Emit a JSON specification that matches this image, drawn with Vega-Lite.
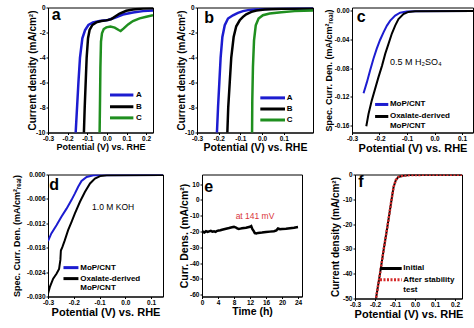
{
 "$schema": "https://vega.github.io/schema/vega-lite/v6.json",
 "padding": {"left": 11, "top": 3.5, "right": 0, "bottom": 0},
 "background": "white",
 "config": {
   "font": "Liberation Sans",
   "locale": {"number": {"decimal": ".", "thousands": ",", "grouping": [3], "currency": ["$", ""], "minus": "-"}},
   "view": {"stroke": "black", "strokeWidth": 1},
   "axis": {"grid": false, "domainColor": "black", "domainWidth": 1, "tickColor": "black", "tickSize": 2, "tickWidth": 1, "tickCount": 20, "labelFontSize": 6.5, "labelFontWeight": "bold", "labelColor": "black", "labelPadding": 1, "labelFlush": false, "labelOverlap": false, "titleFontSize": 10, "titleFontWeight": "bold", "titleColor": "black", "titlePadding": 0},
   "text": {"font": "Liberation Sans", "color": "black"}
 },
 "bounds": "full",
 "spacing": 17,
 "vconcat": [
  {
   "bounds": "flush",
   "spacing": 0,
   "hconcat": [
    {
     "width": 105, "height": 125,
     "layer": [
      {"data": {"values": [
        {"s":"A","x":-0.163,"y":-11},{"s":"A","x":-0.159,"y":-10},{"s":"A","x":-0.152,"y":-8},{"s":"A","x":-0.145,"y":-6},{"s":"A","x":-0.137,"y":-4},{"s":"A","x":-0.125,"y":-2.46},{"s":"A","x":-0.111,"y":-1.8},{"s":"A","x":-0.094,"y":-1.4},{"s":"A","x":-0.071,"y":-1.19},{"s":"A","x":-0.037,"y":-1.08},{"s":"A","x":0.006,"y":-1.0},{"s":"A","x":0.04,"y":-0.82},{"s":"A","x":0.082,"y":-0.56},{"s":"A","x":0.133,"y":-0.4},{"s":"A","x":0.184,"y":-0.29},{"s":"A","x":0.235,"y":-0.24},
        {"s":"B","x":-0.119,"y":-11},{"s":"B","x":-0.117,"y":-10},{"s":"B","x":-0.113,"y":-8},{"s":"B","x":-0.108,"y":-6},{"s":"B","x":-0.103,"y":-4},{"s":"B","x":-0.096,"y":-2.46},{"s":"B","x":-0.088,"y":-1.8},{"s":"B","x":-0.074,"y":-1.4},{"s":"B","x":-0.054,"y":-1.19},{"s":"B","x":-0.028,"y":-1.08},{"s":"B","x":-0.003,"y":-1.03},{"s":"B","x":0.023,"y":-0.93},{"s":"B","x":0.04,"y":-0.74},{"s":"B","x":0.065,"y":-0.48},{"s":"B","x":0.099,"y":-0.26},{"s":"B","x":0.133,"y":-0.16},{"s":"B","x":0.184,"y":-0.08},{"s":"B","x":0.235,"y":-0.05},
        {"s":"C","x":-0.038,"y":-11},{"s":"C","x":-0.037,"y":-10},{"s":"C","x":-0.035,"y":-7.5},{"s":"C","x":-0.033,"y":-4.8},{"s":"C","x":-0.03,"y":-2.72},{"s":"C","x":-0.025,"y":-2.06},{"s":"C","x":-0.016,"y":-1.72},{"s":"C","x":-0.003,"y":-1.59},{"s":"C","x":0.018,"y":-1.53},{"s":"C","x":0.04,"y":-1.61},{"s":"C","x":0.06,"y":-1.8},{"s":"C","x":0.07,"y":-1.88},{"s":"C","x":0.086,"y":-1.67},{"s":"C","x":0.108,"y":-1.35},{"s":"C","x":0.133,"y":-1.08},{"s":"C","x":0.167,"y":-0.87},{"s":"C","x":0.201,"y":-0.74},{"s":"C","x":0.235,"y":-0.61}
       ]},
       "mark": {"type": "line", "strokeWidth": 2.5, "clip": true},
       "encoding": {
        "x": {"field": "x", "type": "quantitative", "scale": {"domain": [-0.3, 0.235], "nice": false, "zero": false}, "axis": {"values": [-0.3, -0.2, -0.1, 0, 0.1, 0.2], "tickCount": 20, "format": ".1f", "labelOverlap": false, "title": "Potential (V) vs. RHE", "titleFontSize": 9}},
        "y": {"field": "y", "type": "quantitative", "scale": {"domain": [-10, 0], "nice": false, "zero": false}, "axis": {"values": [-10, -8, -6, -4, -2, 0], "tickCount": 20, "format": "d", "labelOverlap": false, "title": "Current density (mA/cm²)", "titleFontSize": 10, "minExtent": 10.6, "maxExtent": 10.6}},
        "color": {"field": "s", "type": "nominal", "scale": {"domain": ["A", "B", "C"], "range": ["#1c1cd0", "#000000", "#1f8f1f"]}, "legend": null}
       }},
      {"data": {"values": [{}]}, "mark": {"type": "rule", "color": "#1c1cd0", "strokeWidth": 3}, "encoding": {"x": {"datum": 0.016}, "x2": {"datum": 0.135}, "y": {"datum": -7.0}}},
      {"data": {"values": [{}]}, "mark": {"type": "rule", "color": "#000000", "strokeWidth": 3}, "encoding": {"x": {"datum": 0.016}, "x2": {"datum": 0.135}, "y": {"datum": -7.94}}},
      {"data": {"values": [{}]}, "mark": {"type": "rule", "color": "#1f8f1f", "strokeWidth": 3}, "encoding": {"x": {"datum": 0.016}, "x2": {"datum": 0.135}, "y": {"datum": -8.83}}},
      {"data": {"values": [{}]}, "mark": {"type": "text", "text": "A", "align": "left", "baseline": "middle", "fontSize": 8, "fontWeight": "bold"}, "encoding": {"x": {"datum": 0.149}, "y": {"datum": -7.0}}},
      {"data": {"values": [{}]}, "mark": {"type": "text", "text": "B", "align": "left", "baseline": "middle", "fontSize": 8, "fontWeight": "bold"}, "encoding": {"x": {"datum": 0.149}, "y": {"datum": -7.94}}},
      {"data": {"values": [{}]}, "mark": {"type": "text", "text": "C", "align": "left", "baseline": "middle", "fontSize": 8, "fontWeight": "bold"}, "encoding": {"x": {"datum": 0.149}, "y": {"datum": -8.83}}},
      {"data": {"values": [{}]}, "mark": {"type": "text", "text": "a", "align": "left", "baseline": "alphabetic", "fontSize": 16, "fontWeight": "bold"}, "encoding": {"x": {"datum": -0.281}, "y": {"datum": -0.98}}}
     ]
    },
    {"width": 44, "height": 1, "data": {"values": []}, "mark": "point", "view": {"stroke": null}},
    {
     "width": 116, "height": 125,
     "layer": [
      {"data": {"values": [
        {"s":"A","x":-0.212,"y":-11},{"s":"A","x":-0.208,"y":-10},{"s":"A","x":-0.203,"y":-8},{"s":"A","x":-0.197,"y":-6},{"s":"A","x":-0.191,"y":-4},{"s":"A","x":-0.183,"y":-2.36},{"s":"A","x":-0.172,"y":-1.42},{"s":"A","x":-0.157,"y":-0.88},{"s":"A","x":-0.134,"y":-0.62},{"s":"A","x":-0.111,"y":-0.43},{"s":"A","x":-0.088,"y":-0.29},{"s":"A","x":-0.065,"y":-0.21},{"s":"A","x":-0.034,"y":-0.16},{"s":"A","x":0.043,"y":-0.11},{"s":"A","x":0.15,"y":-0.08},{"s":"A","x":0.235,"y":-0.05},
        {"s":"B","x":-0.163,"y":-11},{"s":"B","x":-0.16,"y":-10},{"s":"B","x":-0.156,"y":-8},{"s":"B","x":-0.149,"y":-6},{"s":"B","x":-0.142,"y":-4},{"s":"B","x":-0.131,"y":-2.36},{"s":"B","x":-0.119,"y":-1.5},{"s":"B","x":-0.103,"y":-1.02},{"s":"B","x":-0.088,"y":-0.75},{"s":"B","x":-0.073,"y":-0.54},{"s":"B","x":-0.049,"y":-0.35},{"s":"B","x":-0.026,"y":-0.24},{"s":"B","x":0.012,"y":-0.16},{"s":"B","x":0.089,"y":-0.11},{"s":"B","x":0.235,"y":-0.08},
        {"s":"C","x":-0.047,"y":-11},{"s":"C","x":-0.046,"y":-10},{"s":"C","x":-0.045,"y":-7.45},{"s":"C","x":-0.042,"y":-4.77},{"s":"C","x":-0.037,"y":-2.63},{"s":"C","x":-0.029,"y":-1.42},{"s":"C","x":-0.016,"y":-0.88},{"s":"C","x":0.004,"y":-0.62},{"s":"C","x":0.035,"y":-0.48},{"s":"C","x":0.089,"y":-0.38},{"s":"C","x":0.15,"y":-0.29},{"s":"C","x":0.235,"y":-0.24}
       ]},
       "mark": {"type": "line", "strokeWidth": 2.5, "clip": true},
       "encoding": {
        "x": {"field": "x", "type": "quantitative", "scale": {"domain": [-0.3, 0.235], "nice": false, "zero": false}, "axis": {"values": [-0.3, -0.2, -0.1, 0, 0.1], "tickCount": 20, "format": ".1f", "labelOverlap": false, "title": "Potential (V) vs. RHE", "titleFontSize": 10.5}},
        "y": {"field": "y", "type": "quantitative", "scale": {"domain": [-10, 0], "nice": false, "zero": false}, "axis": {"values": [-10, -8, -6, -4, -2, 0], "tickCount": 20, "format": "d", "labelOverlap": false, "title": "Current density (mA/cm²)", "titleFontSize": 10, "minExtent": 11, "maxExtent": 11}},
        "color": {"field": "s", "type": "nominal", "scale": {"domain": ["A", "B", "C"], "range": ["#1c1cd0", "#000000", "#1f8f1f"]}, "legend": null}
       }},
      {"data": {"values": [{}]}, "mark": {"type": "rule", "color": "#1c1cd0", "strokeWidth": 3}, "encoding": {"x": {"datum": -0.008}, "x2": {"datum": 0.106}, "y": {"datum": -7.23}}},
      {"data": {"values": [{}]}, "mark": {"type": "rule", "color": "#000000", "strokeWidth": 3}, "encoding": {"x": {"datum": -0.008}, "x2": {"datum": 0.106}, "y": {"datum": -8.12}}},
      {"data": {"values": [{}]}, "mark": {"type": "rule", "color": "#1f8f1f", "strokeWidth": 3}, "encoding": {"x": {"datum": -0.008}, "x2": {"datum": 0.106}, "y": {"datum": -9.0}}},
      {"data": {"values": [{}]}, "mark": {"type": "text", "text": "A", "align": "left", "baseline": "middle", "fontSize": 8, "fontWeight": "bold"}, "encoding": {"x": {"datum": 0.114}, "y": {"datum": -7.23}}},
      {"data": {"values": [{}]}, "mark": {"type": "text", "text": "B", "align": "left", "baseline": "middle", "fontSize": 8, "fontWeight": "bold"}, "encoding": {"x": {"datum": 0.114}, "y": {"datum": -8.12}}},
      {"data": {"values": [{}]}, "mark": {"type": "text", "text": "C", "align": "left", "baseline": "middle", "fontSize": 8, "fontWeight": "bold"}, "encoding": {"x": {"datum": 0.114}, "y": {"datum": -9.0}}},
      {"data": {"values": [{}]}, "mark": {"type": "text", "text": "b", "align": "left", "baseline": "alphabetic", "fontSize": 16, "fontWeight": "bold"}, "encoding": {"x": {"datum": -0.266}, "y": {"datum": -1.26}}}
     ]
    },
    {"width": 39, "height": 1, "data": {"values": []}, "mark": "point", "view": {"stroke": null}},
    {
     "width": 121, "height": 125,
     "layer": [
      {"data": {"values": [
        {"s":"MoP/CNT","x":-0.258,"y":-0.115},{"s":"MoP/CNT","x":-0.246,"y":-0.1},{"s":"MoP/CNT","x":-0.234,"y":-0.083},{"s":"MoP/CNT","x":-0.222,"y":-0.067},{"s":"MoP/CNT","x":-0.21,"y":-0.053},{"s":"MoP/CNT","x":-0.198,"y":-0.041},{"s":"MoP/CNT","x":-0.185,"y":-0.03},{"s":"MoP/CNT","x":-0.173,"y":-0.021},{"s":"MoP/CNT","x":-0.161,"y":-0.014},{"s":"MoP/CNT","x":-0.143,"y":-0.007},{"s":"MoP/CNT","x":-0.125,"y":-0.003},{"s":"MoP/CNT","x":-0.101,"y":-0.0014},{"s":"MoP/CNT","x":-0.065,"y":-0.0009},{"s":"MoP/CNT","x":0.14,"y":-0.0005},
        {"s":"Oxalate-derived MoP/CNT","x":-0.248,"y":-0.161},{"s":"Oxalate-derived MoP/CNT","x":-0.24,"y":-0.144},{"s":"Oxalate-derived MoP/CNT","x":-0.228,"y":-0.125},{"s":"Oxalate-derived MoP/CNT","x":-0.216,"y":-0.109},{"s":"Oxalate-derived MoP/CNT","x":-0.204,"y":-0.093},{"s":"Oxalate-derived MoP/CNT","x":-0.191,"y":-0.077},{"s":"Oxalate-derived MoP/CNT","x":-0.179,"y":-0.06},{"s":"Oxalate-derived MoP/CNT","x":-0.167,"y":-0.046},{"s":"Oxalate-derived MoP/CNT","x":-0.155,"y":-0.032},{"s":"Oxalate-derived MoP/CNT","x":-0.143,"y":-0.021},{"s":"Oxalate-derived MoP/CNT","x":-0.131,"y":-0.012},{"s":"Oxalate-derived MoP/CNT","x":-0.113,"y":-0.005},{"s":"Oxalate-derived MoP/CNT","x":-0.095,"y":-0.002},{"s":"Oxalate-derived MoP/CNT","x":-0.071,"y":-0.0009},{"s":"Oxalate-derived MoP/CNT","x":0.14,"y":-0.0005}
       ]},
       "mark": {"type": "line", "strokeWidth": 2, "clip": true},
       "encoding": {
        "x": {"field": "x", "type": "quantitative", "scale": {"domain": [-0.3, 0.14], "nice": false, "zero": false}, "axis": {"values": [-0.3, -0.2, -0.1, 0, 0.1], "tickCount": 20, "format": ".1f", "labelOverlap": false, "title": "Potential (V) vs. RHE", "titleFontSize": 11}},
        "y": {"field": "y", "type": "quantitative", "scale": {"domain": [-0.1697, 0.0042], "nice": false, "zero": false}, "axis": {"values": [-0.16, -0.12, -0.08, -0.04, 0], "tickCount": 20, "format": ".2f", "labelOverlap": false, "title": "Spec. Curr. Den. (mA/cm²ᵣₑₐₗ)", "titleFontSize": 9, "minExtent": 19, "maxExtent": 19}},
        "color": {"field": "s", "type": "nominal", "scale": {"domain": ["MoP/CNT", "Oxalate-derived MoP/CNT"], "range": ["#1c1cd0", "#000000"]}, "legend": null}
       }},
      {"data": {"values": [{}]}, "mark": {"type": "rule", "color": "#1c1cd0", "strokeWidth": 3}, "encoding": {"x": {"datum": -0.216}, "x2": {"datum": -0.168}, "y": {"datum": -0.1307}}},
      {"data": {"values": [{}]}, "mark": {"type": "rule", "color": "#000000", "strokeWidth": 3}, "encoding": {"x": {"datum": -0.216}, "x2": {"datum": -0.168}, "y": {"datum": -0.1474}}},
      {"data": {"values": [{}]}, "mark": {"type": "text", "text": "MoP/CNT", "align": "left", "baseline": "middle", "fontSize": 8, "fontWeight": "bold"}, "encoding": {"x": {"datum": -0.162}, "y": {"datum": -0.1307}}},
      {"data": {"values": [{}]}, "mark": {"type": "text", "text": "Oxalate-derived", "align": "left", "baseline": "middle", "fontSize": 8, "fontWeight": "bold"}, "encoding": {"x": {"datum": -0.162}, "y": {"datum": -0.1474}}},
      {"data": {"values": [{}]}, "mark": {"type": "text", "text": "MoP/CNT", "align": "left", "baseline": "middle", "fontSize": 8, "fontWeight": "bold"}, "encoding": {"x": {"datum": -0.162}, "y": {"datum": -0.1613}}},
      {"data": {"values": [{}]}, "mark": {"type": "text", "text": "0.5 M H₂SO₄", "align": "left", "baseline": "middle", "fontSize": 9}, "encoding": {"x": {"datum": -0.162}, "y": {"datum": -0.0719}}},
      {"data": {"values": [{}]}, "mark": {"type": "text", "text": "c", "align": "left", "baseline": "alphabetic", "fontSize": 16, "fontWeight": "bold"}, "encoding": {"x": {"datum": -0.283}, "y": {"datum": -0.0163}}}
     ]
    }
   ]
  },
  {
   "bounds": "flush",
   "spacing": 0,
   "hconcat": [
    {
     "width": 115, "height": 122,
     "layer": [
      {"data": {"values": [
        {"s":"MoP/CNT","x":-0.3,"y":-0.0164},{"s":"MoP/CNT","x":-0.287,"y":-0.0145},{"s":"MoP/CNT","x":-0.267,"y":-0.0125},{"s":"MoP/CNT","x":-0.248,"y":-0.0104},{"s":"MoP/CNT","x":-0.228,"y":-0.0084},{"s":"MoP/CNT","x":-0.209,"y":-0.0063},{"s":"MoP/CNT","x":-0.196,"y":-0.0047},{"s":"MoP/CNT","x":-0.183,"y":-0.003},{"s":"MoP/CNT","x":-0.17,"y":-0.0016},{"s":"MoP/CNT","x":-0.15,"y":-0.0006},{"s":"MoP/CNT","x":-0.124,"y":-0.0002},{"s":"MoP/CNT","x":0.146,"y":-0.0001},
        {"s":"Oxalate-derived MoP/CNT","x":-0.3,"y":-0.0293},{"s":"Oxalate-derived MoP/CNT","x":-0.293,"y":-0.0277},{"s":"Oxalate-derived MoP/CNT","x":-0.28,"y":-0.0256},{"s":"Oxalate-derived MoP/CNT","x":-0.267,"y":-0.0244},{"s":"Oxalate-derived MoP/CNT","x":-0.257,"y":-0.0232},{"s":"Oxalate-derived MoP/CNT","x":-0.252,"y":-0.021},{"s":"Oxalate-derived MoP/CNT","x":-0.25,"y":-0.0187},{"s":"Oxalate-derived MoP/CNT","x":-0.244,"y":-0.0178},{"s":"Oxalate-derived MoP/CNT","x":-0.235,"y":-0.0162},{"s":"Oxalate-derived MoP/CNT","x":-0.222,"y":-0.0137},{"s":"Oxalate-derived MoP/CNT","x":-0.209,"y":-0.0117},{"s":"Oxalate-derived MoP/CNT","x":-0.196,"y":-0.0096},{"s":"Oxalate-derived MoP/CNT","x":-0.176,"y":-0.0067},{"s":"Oxalate-derived MoP/CNT","x":-0.157,"y":-0.0043},{"s":"Oxalate-derived MoP/CNT","x":-0.137,"y":-0.0022},{"s":"Oxalate-derived MoP/CNT","x":-0.118,"y":-0.001},{"s":"Oxalate-derived MoP/CNT","x":-0.098,"y":-0.0004},{"s":"Oxalate-derived MoP/CNT","x":-0.072,"y":-0.0002},{"s":"Oxalate-derived MoP/CNT","x":0.146,"y":-0.0001}
       ]},
       "mark": {"type": "line", "strokeWidth": 2, "clip": true},
       "encoding": {
        "x": {"field": "x", "type": "quantitative", "scale": {"domain": [-0.3, 0.146], "nice": false, "zero": false}, "axis": {"values": [-0.3, -0.2, -0.1, 0, 0.1], "tickCount": 20, "format": ".1f", "labelOverlap": false, "title": "Potential (V) vs. RHE", "titleFontSize": 11}},
        "y": {"field": "y", "type": "quantitative", "scale": {"domain": [-0.03, 0], "nice": false, "zero": false}, "axis": {"values": [-0.03, -0.024, -0.018, -0.012, -0.006, 0], "tickCount": 20, "format": ".3f", "labelOverlap": false, "title": "Spec. Curr. Den. (mA/cm²ᵣₑₐₗ)", "titleFontSize": 9, "minExtent": 27, "maxExtent": 27}},
        "color": {"field": "s", "type": "nominal", "scale": {"domain": ["MoP/CNT", "Oxalate-derived MoP/CNT"], "range": ["#1c1cd0", "#000000"]}, "legend": null}
       }},
      {"data": {"values": [{}]}, "mark": {"type": "rule", "color": "#1c1cd0", "strokeWidth": 3}, "encoding": {"x": {"datum": -0.24}, "x2": {"datum": -0.182}, "y": {"datum": -0.0229}}},
      {"data": {"values": [{}]}, "mark": {"type": "rule", "color": "#000000", "strokeWidth": 3}, "encoding": {"x": {"datum": -0.24}, "x2": {"datum": -0.182}, "y": {"datum": -0.0256}}},
      {"data": {"values": [{}]}, "mark": {"type": "text", "text": "MoP/CNT", "align": "left", "baseline": "middle", "fontSize": 8, "fontWeight": "bold"}, "encoding": {"x": {"datum": -0.175}, "y": {"datum": -0.0229}}},
      {"data": {"values": [{}]}, "mark": {"type": "text", "text": "Oxalate-derived", "align": "left", "baseline": "middle", "fontSize": 8, "fontWeight": "bold"}, "encoding": {"x": {"datum": -0.175}, "y": {"datum": -0.0256}}},
      {"data": {"values": [{}]}, "mark": {"type": "text", "text": "MoP/CNT", "align": "left", "baseline": "middle", "fontSize": 8, "fontWeight": "bold"}, "encoding": {"x": {"datum": -0.175}, "y": {"datum": -0.028}}},
      {"data": {"values": [{}]}, "mark": {"type": "text", "text": "1.0 M KOH", "align": "left", "baseline": "middle", "fontSize": 8.5}, "encoding": {"x": {"datum": -0.129}, "y": {"datum": -0.0079}}},
      {"data": {"values": [{}]}, "mark": {"type": "text", "text": "d", "align": "left", "baseline": "alphabetic", "fontSize": 16, "fontWeight": "bold"}, "encoding": {"x": {"datum": -0.295}, "y": {"datum": -0.00386}}}
     ]
    },
    {"width": 39, "height": 1, "data": {"values": []}, "mark": "point", "view": {"stroke": null}},
    {
     "width": 100, "height": 122,
     "layer": [
      {"data": {"values": [
        {"t":0,"y":-20.9},{"t":0.3,"y":-20.2},{"t":0.6,"y":-20.6},{"t":1.0,"y":-19.8},{"t":1.4,"y":-20.3},{"t":1.8,"y":-19.9},{"t":2.2,"y":-19.6},{"t":2.6,"y":-20.1},{"t":3.0,"y":-19.9},{"t":3.4,"y":-20.3},{"t":3.8,"y":-19.6},{"t":4.2,"y":-19.4},{"t":4.6,"y":-19.2},{"t":5.0,"y":-18.9},{"t":5.5,"y":-18.6},{"t":6.0,"y":-18.3},{"t":6.5,"y":-18.0},{"t":7.0,"y":-17.6},{"t":7.5,"y":-17.3},{"t":8.0,"y":-17.1},{"t":8.5,"y":-17.5},{"t":8.8,"y":-18.0},{"t":9.2,"y":-18.4},{"t":9.6,"y":-18.2},{"t":10.0,"y":-18.0},{"t":10.5,"y":-17.8},{"t":11.0,"y":-17.6},{"t":11.5,"y":-17.3},{"t":12.0,"y":-17.0},{"t":12.3,"y":-16.6},{"t":12.6,"y":-18.5},{"t":12.9,"y":-19.6},{"t":13.2,"y":-21.0},{"t":13.6,"y":-21.2},{"t":14.0,"y":-20.9},{"t":15.0,"y":-20.7},{"t":16.0,"y":-20.4},{"t":17.0,"y":-20.1},{"t":18.0,"y":-19.8},{"t":18.6,"y":-19.3},{"t":19.0,"y":-18.1},{"t":19.5,"y":-18.6},{"t":20.0,"y":-18.4},{"t":21.0,"y":-18.2},{"t":22.0,"y":-17.9},{"t":23.0,"y":-17.6},{"t":24.0,"y":-17.2}
       ]},
       "mark": {"type": "line", "strokeWidth": 2.5, "color": "black", "clip": true},
       "encoding": {
        "x": {"field": "t", "type": "quantitative", "scale": {"domain": [0, 25], "nice": false, "zero": false}, "axis": {"values": [0, 4, 8, 12, 16, 20, 24], "tickCount": 20, "format": "d", "labelOverlap": false, "title": "Time (h)", "titleFontSize": 10.5}},
        "y": {"field": "y", "type": "quantitative", "scale": {"domain": [-61.2, 16.1], "nice": false, "zero": false}, "axis": {"values": [-60, -50, -40, -30, -20, -10, 0, 10], "tickCount": 20, "format": "d", "labelOverlap": false, "title": "Curr. Dens. (mA/cm²)", "titleFontSize": 10.5, "minExtent": 12.5, "maxExtent": 12.5}}
       }},
      {"data": {"values": [{}]}, "mark": {"type": "text", "text": "at 141 mV", "align": "center", "baseline": "middle", "fontSize": 8.5, "color": "#d9343a"}, "encoding": {"x": {"datum": 13.25}, "y": {"datum": -10}}},
      {"data": {"values": [{}]}, "mark": {"type": "text", "text": "e", "align": "left", "baseline": "alphabetic", "fontSize": 16, "fontWeight": "bold"}, "encoding": {"x": {"datum": 0.575}, "y": {"datum": 5.1}}}
     ]
    },
    {"width": 53, "height": 1, "data": {"values": []}, "mark": "point", "view": {"stroke": null}},
    {
     "width": 107, "height": 124,
     "layer": [
      {"data": {"values": [
        {"x":-0.199,"y":-51},{"x":-0.195,"y":-50},{"x":-0.175,"y":-40},{"x":-0.156,"y":-30},{"x":-0.136,"y":-20},{"x":-0.117,"y":-10},{"x":-0.107,"y":-5},{"x":-0.096,"y":-2.3},{"x":-0.083,"y":-1.0},{"x":-0.062,"y":-0.5},{"x":-0.028,"y":-0.25},{"x":0.03,"y":-0.15},{"x":0.235,"y":-0.1}
       ]},
       "mark": {"type": "line", "strokeWidth": 2, "color": "black", "clip": true},
       "encoding": {
        "x": {"field": "x", "type": "quantitative", "scale": {"domain": [-0.3, 0.235], "nice": false, "zero": false}, "axis": {"values": [-0.3, -0.2, -0.1, 0, 0.1, 0.2], "tickCount": 20, "format": ".1f", "labelOverlap": false, "title": "Potential (V) vs. RHE", "titleFontSize": 11}},
        "y": {"field": "y", "type": "quantitative", "scale": {"domain": [-50, 0], "nice": false, "zero": false}, "axis": {"values": [-50, -40, -30, -20, -10, 0], "tickCount": 20, "format": "d", "labelOverlap": false, "title": "Current density (mA/cm²)", "titleFontSize": 10, "minExtent": 15, "maxExtent": 15}}
       }},
      {"data": {"values": [
        {"x":-0.199,"y":-51},{"x":-0.195,"y":-50},{"x":-0.175,"y":-40},{"x":-0.156,"y":-30},{"x":-0.136,"y":-20},{"x":-0.117,"y":-10},{"x":-0.107,"y":-5},{"x":-0.096,"y":-2.3},{"x":-0.083,"y":-1.0},{"x":-0.062,"y":-0.5},{"x":-0.028,"y":-0.25},{"x":0.03,"y":-0.15},{"x":0.235,"y":-0.1}
       ]},
       "mark": {"type": "line", "strokeWidth": 2.5, "color": "#d42a2a", "strokeDash": [2, 1.5], "clip": true},
       "encoding": {
        "x": {"field": "x", "type": "quantitative"},
        "y": {"field": "y", "type": "quantitative"}
       }},
      {"data": {"values": [{}]}, "mark": {"type": "rule", "color": "#000000", "strokeWidth": 3}, "encoding": {"x": {"datum": -0.175}, "x2": {"datum": -0.0665}, "y": {"datum": -37.9}}},
      {"data": {"values": [{}]}, "mark": {"type": "rule", "color": "#d42a2a", "strokeWidth": 3, "strokeDash": [2, 1.5]}, "encoding": {"x": {"datum": -0.175}, "x2": {"datum": -0.0665}, "y": {"datum": -42.4}}},
      {"data": {"values": [{}]}, "mark": {"type": "text", "text": "Initial", "align": "left", "baseline": "middle", "fontSize": 8, "fontWeight": "bold"}, "encoding": {"x": {"datum": -0.0585}, "y": {"datum": -37.9}}},
      {"data": {"values": [{}]}, "mark": {"type": "text", "text": "After stability", "align": "left", "baseline": "middle", "fontSize": 8, "fontWeight": "bold"}, "encoding": {"x": {"datum": -0.0585}, "y": {"datum": -42.4}}},
      {"data": {"values": [{}]}, "mark": {"type": "text", "text": "test", "align": "left", "baseline": "middle", "fontSize": 8, "fontWeight": "bold"}, "encoding": {"x": {"datum": -0.0585}, "y": {"datum": -46.7}}},
      {"data": {"values": [{}]}, "mark": {"type": "text", "text": "f", "align": "left", "baseline": "alphabetic", "fontSize": 16, "fontWeight": "bold"}, "encoding": {"x": {"datum": -0.2835}, "y": {"datum": -5.24}}}
     ]
    }
   ]
  }
 ]
}
